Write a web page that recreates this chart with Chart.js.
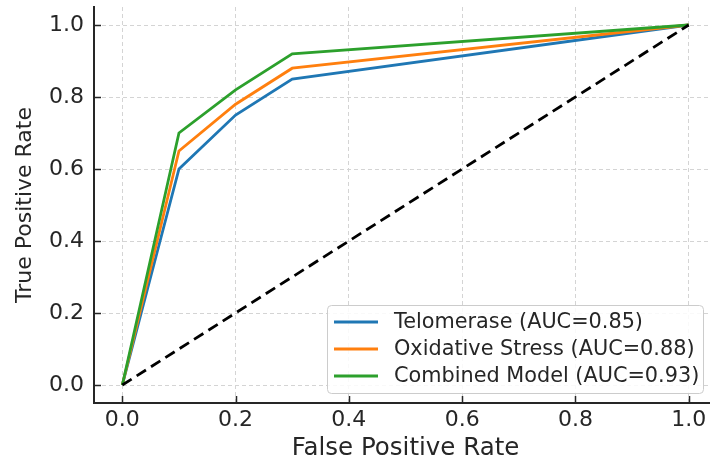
<!DOCTYPE html>
<html>
<head>
<meta charset="utf-8">
<script src="https://cdn.jsdelivr.net/npm/chart.js@4"></script>
<style>
  html, body { margin: 0; padding: 0; background: #fff; overflow: hidden; }
  #wrap { width: 720px; height: 459px; }
</style>
</head>
<body>
<div id="wrap"><canvas id="rocChart" width="720" height="459"></canvas></div>
<script>
// ROC data
const fpr = [0, 0.1, 0.2, 0.3, 1.0];
const tprTelomerase = [0, 0.6, 0.75, 0.85, 1.0];
const tprOxidative = [0, 0.65, 0.78, 0.88, 1.0];
const tprCombined = [0, 0.7, 0.82, 0.92, 1.0];
const chanceLine = [0, 1];
const seriesLabels = ['Telomerase (AUC=0.85)', 'Oxidative Stress (AUC=0.88)', 'Combined Model (AUC=0.93)'];
const tickValues = [0, 0.2, 0.4, 0.6, 0.8, 1.0];

const colors = ['#1f77b4', '#ff7f0e', '#2ca02c'];
const textColor = '#262626';
const fontFamily = '"DejaVu Sans", sans-serif';

function toPoints(xs, ys) {
    return xs.map((x, i) => ({ x: x, y: ys[i] }));
}

// inward tick marks on left and bottom axes
const tickMarks = {
    id: 'tickMarks',
    afterDraw(chart) {
        const ctx = chart.ctx;
        const area = chart.chartArea;
        const xs = chart.scales.x, ys = chart.scales.y;
        ctx.save();
        ctx.strokeStyle = textColor;
        ctx.lineWidth = 1.5;
        ctx.beginPath();
        tickValues.forEach(v => {
            const px = Math.round(xs.getPixelForValue(v)) + 0.5;
            ctx.moveTo(px, area.bottom);
            ctx.lineTo(px, area.bottom - 7);
            const py = Math.round(ys.getPixelForValue(v)) + 0.5;
            ctx.moveTo(area.left, py);
            ctx.lineTo(area.left + 7, py);
        });
        ctx.stroke();
        ctx.restore();
    }
};

// legend box in the lower right of the plot
const innerLegend = {
    id: 'innerLegend',
    afterDraw(chart) {
        const ctx = chart.ctx;
        const box = { x: 327, y: 305, w: 376, h: 88 };
        ctx.save();
        ctx.fillStyle = 'rgba(255,255,255,0.85)';
        ctx.strokeStyle = '#cccccc';
        ctx.lineWidth = 1;
        ctx.beginPath();
        ctx.roundRect(box.x + 0.5, box.y + 0.5, box.w, box.h, 4);
        ctx.fill();
        ctx.stroke();
        ctx.font = '20.8px ' + fontFamily;
        ctx.textBaseline = 'middle';
        ctx.fillStyle = textColor;
        const items = chart.data.datasets.filter(d => d.inLegend);
        items.forEach((d, i) => {
            const y = box.y + 17 + i * 27;
            ctx.strokeStyle = d.borderColor;
            ctx.lineWidth = 2.8;
            ctx.beginPath();
            ctx.moveTo(334, y);
            ctx.lineTo(378, y);
            ctx.stroke();
            ctx.fillStyle = textColor;
            ctx.fillText(d.label, 394, y + 1);
        });
        ctx.restore();
    }
};

const ctx = document.getElementById('rocChart').getContext('2d');
new Chart(ctx, {
    type: 'line',
    data: {
        datasets: [
            {
                label: seriesLabels[0],
                data: toPoints(fpr, tprTelomerase),
                borderColor: colors[0],
                borderWidth: 2.8,
                inLegend: true,
                order: 3
            },
            {
                label: seriesLabels[1],
                data: toPoints(fpr, tprOxidative),
                borderColor: colors[1],
                borderWidth: 2.8,
                inLegend: true,
                order: 2
            },
            {
                label: seriesLabels[2],
                data: toPoints(fpr, tprCombined),
                borderColor: colors[2],
                borderWidth: 2.8,
                inLegend: true,
                order: 1
            },
            {
                label: 'Chance',
                data: toPoints(chanceLine, chanceLine),
                borderColor: '#000000',
                borderWidth: 2.8,
                borderDash: [11, 6],
                inLegend: false,
                order: 0
            }
        ]
    },
    options: {
        responsive: false,
        animation: false,
        devicePixelRatio: 1,
        layout: { padding: { left: 0, right: 3, top: 7, bottom: 0 } },
        elements: {
            point: { radius: 0 },
            line: { tension: 0, fill: false, borderCapStyle: 'butt' }
        },
        plugins: {
            legend: { display: false },
            tooltip: { enabled: false }
        },
        scales: {
            x: {
                type: 'linear',
                min: -0.05,
                max: 1.05,
                afterBuildTicks: s => { s.ticks = tickValues.map(v => ({ value: v })); },
                afterFit: s => { s.height = 56; s.paddingLeft = 0; s.paddingRight = 0; },
                ticks: {
                    color: textColor,
                    padding: 4,
                    font: { family: fontFamily, size: 22 },
                    callback: v => Number(v).toFixed(1)
                },
                grid: {
                    color: '#d4d4d4',
                    lineWidth: 1,
                    drawTicks: false
                },
                border: { color: textColor, width: 2, dash: [4, 3] },
                title: {
                    display: true,
                    text: 'False Positive Rate',
                    color: textColor,
                    font: { family: fontFamily, size: 24.5, lineHeight: 0.82 },
                    padding: { top: 0, bottom: 0 }
                }
            },
            y: {
                type: 'linear',
                min: -0.05,
                max: 1.05,
                afterBuildTicks: s => { s.ticks = tickValues.map(v => ({ value: v })); },
                afterFit: s => { s.width = 94; s.paddingTop = 0; s.paddingBottom = 0; },
                ticks: {
                    color: textColor,
                    padding: 10,
                    font: { family: fontFamily, size: 22 },
                    callback: v => Number(v).toFixed(1)
                },
                grid: {
                    color: '#d4d4d4',
                    lineWidth: 1,
                    drawTicks: false
                },
                border: { color: textColor, width: 2, dash: [4, 3] },
                title: {
                    display: true,
                    text: 'True Positive Rate',
                    color: textColor,
                    font: { family: fontFamily, size: 22 },
                    padding: { top: 12, bottom: 0 }
                }
            }
        }
    },
    plugins: [tickMarks, innerLegend]
});
</script>
</body>
</html>
